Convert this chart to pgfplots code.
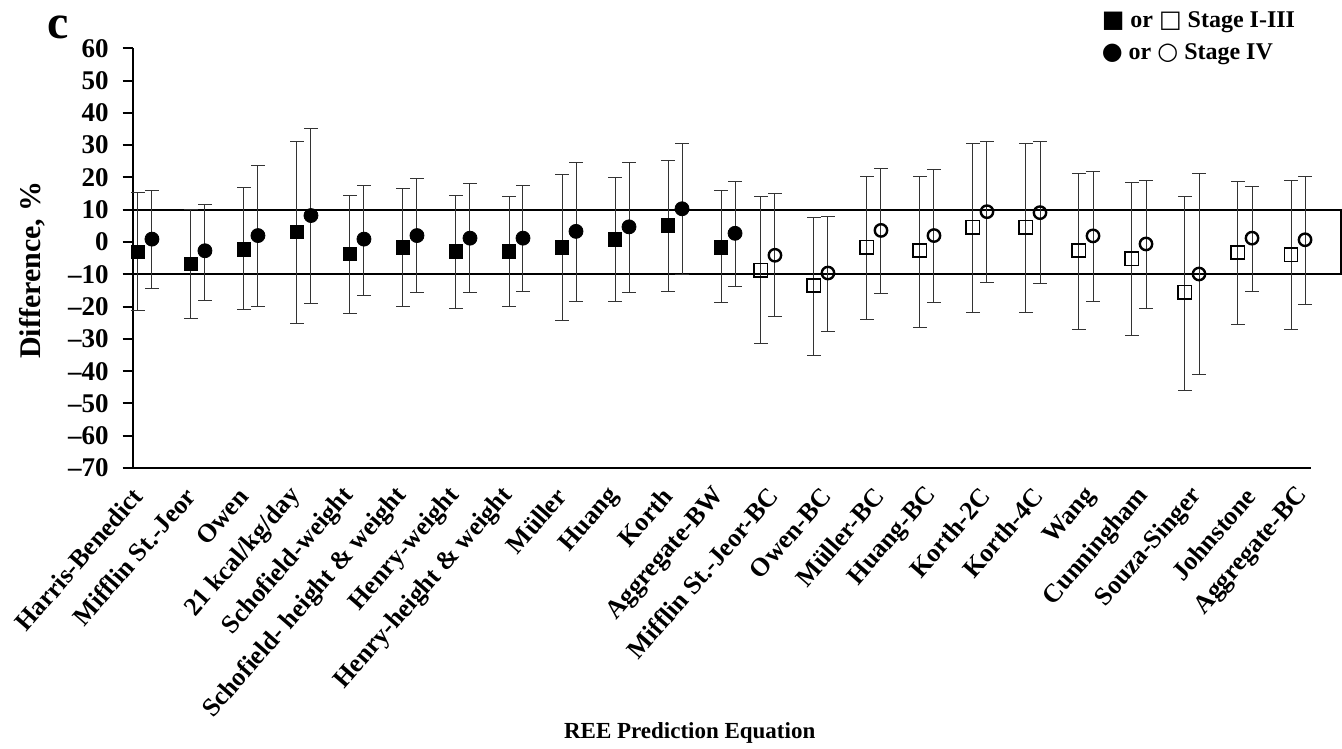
\documentclass[border=0pt]{standalone}
\usepackage{fontspec}
\setmainfont{Liberation Serif}
\newfontfamily\symfont{DejaVu Sans}
\usepackage{pgfplots}
\usepackage{pgfplotstable}
\pgfplotsset{compat=1.18}

% Mean difference (%) with upper and lower limits, per equation index k
% sq = Stage I-III, ci = Stage IV
\pgfplotstableread{
k  sq    sqhi  sqlo   ci    cihi  cilo
0  -3.1  15.3  -21.3  0.9   15.9  -14.5
1  -6.8  10.2  -23.6  -2.7  11.7  -18.0
2  -2.2  16.9  -20.9  2.0   23.7  -20.0
3  3.1   31.1  -25.1  8.2   35.3  -18.9
4  -3.7  14.4  -22.0  0.9   17.6  -16.7
5  -1.7  16.5  -20.0  2.0   19.6  -15.7
6  -2.9  14.4  -20.5  1.2   18.0  -15.7
7  -2.9  14.0  -20.0  1.2   17.6  -15.3
8  -1.7  20.8  -24.4  3.3   24.7  -18.4
9  0.9   20.0  -18.4  4.7   24.7  -15.7
10 5.1   25.4  -15.3  10.3  30.6  -10.2
11 -1.7  16.1  -18.8  2.7   18.7  -13.7
}\bodyweight

\pgfplotstableread{
k  sq     sqhi  sqlo   ci    cihi  cilo
12 -8.7   14.0  -31.5  -4.1  14.9  -23.2
13 -13.5  7.6   -35.2  -9.6  8.0   -27.7
14 -1.6   20.3  -24.1  3.6   22.7  -16.0
15 -2.7   20.3  -26.5  2.0   22.4  -18.8
16 4.6    30.6  -21.7  9.4   31.0  -12.5
17 4.6    30.6  -21.7  9.1   31.0  -12.9
18 -2.7   21.2  -27.2  1.9   21.9  -18.5
19 -5.2   18.4  -28.8  -0.6  19.2  -20.5
20 -15.5  14.0  -45.9  -9.9  21.2  -41.1
21 -3.2   18.7  -25.6  1.2   17.2  -15.3
22 -4.0   19.2  -27.2  0.7   20.3  -19.2
}\bodycomp

\begin{document}
\begin{tikzpicture}
\begin{axis}[
  scale only axis, width=589.5pt, height=210pt,
  xmin=-0.232, xmax=22.0, ymin=-70, ymax=60,
  clip=false,
  axis x line*=bottom, axis y line*=left,
  axis line style={line width=1pt, -},
  ytick={-70,-60,...,60},
  yticklabels={–70,–60,–50,–40,–30,–20,–10,0,10,20,30,40,50,60},
  xtick={0,...,22},
  xticklabels={Harris-Benedict, Mifflin St.-Jeor, Owen, 21 kcal/kg/day,
    Schofield-weight, Schofield- height \& weight, Henry-weight,
    Henry-height \& weight, Müller, Huang, Korth, Aggregate-BW,
    Mifflin St.-Jeor-BC, Owen-BC, Müller-BC, Huang-BC, Korth-2C, Korth-4C,
    Wang, Cunningham, Souza-Singer, Johnstone, Aggregate-BC},
  x tick style={draw=none},
  y tick style={line width=1pt, black},
  tick align=outside, major tick length=5pt,
  yticklabel style={font=\fontsize{13.5}{15}\selectfont\bfseries, xshift=-3.5pt},
  xticklabel style={font=\fontsize{13}{15}\selectfont\bfseries,
    xshift=-3pt, rotate=49, anchor=east, inner sep=1pt},
  xticklabel shift=6pt,
  ylabel={Difference, \%},
  ylabel style={font=\fontsize{15}{17}\selectfont\bfseries,
    at={(axis description cs:-0.0854,0.472)}, anchor=center},
  xlabel={REE Prediction Equation},
  xlabel style={font=\fontsize{11.5}{13}\selectfont\bfseries,
    at={(axis description cs:0.4727,-0.630)}, anchor=center},
  error bars/error bar style={line width=0.5pt, black!80},
  error bars/error mark options={rotate=90, mark size=3.3pt, line width=0.5pt, black!80},
]
% +/-10 % band
\addplot[line width=1pt, black, mark=none]
  coordinates {(-0.415,10) (22.566,10) (22.566,-10) (-0.415,-10)};

% body-weight equations: filled marks
\addplot[only marks, mark=square*, mark size=3.4pt, black,
  error bars/.cd, y dir=both, y explicit]
  table[x expr=\thisrow{k}-0.132, y=sq,
        y error plus expr=\thisrow{sqhi}-\thisrow{sq},
        y error minus expr=\thisrow{sq}-\thisrow{sqlo}] {\bodyweight};
\addplot[only marks, mark=*, mark size=3.5pt, black,
  error bars/.cd, y dir=both, y explicit]
  table[x expr=\thisrow{k}+0.132, y=ci,
        y error plus expr=\thisrow{cihi}-\thisrow{ci},
        y error minus expr=\thisrow{ci}-\thisrow{cilo}] {\bodyweight};

% body-composition equations: open marks
\addplot[only marks, mark=square, mark size=3.3pt, black,
  mark options={line width=0.9pt, fill=none},
  error bars/.cd, y dir=both, y explicit]
  table[x expr=\thisrow{k}-0.38, y=sq,
        y error plus expr=\thisrow{sqhi}-\thisrow{sq},
        y error minus expr=\thisrow{sq}-\thisrow{sqlo}] {\bodycomp};
\addplot[only marks, mark=o, mark size=3.1pt, black,
  mark options={line width=1.2pt, fill=none},
  error bars/.cd, y dir=both, y explicit]
  table[x expr=\thisrow{k}-0.115, y=ci,
        y error plus expr=\thisrow{cihi}-\thisrow{ci},
        y error minus expr=\thisrow{ci}-\thisrow{cilo}] {\bodycomp};

\node[font=\fontsize{24}{26}\selectfont\bfseries] at (axis description cs:-0.0634,1.050) {c};
\node[anchor=west, inner sep=0pt, font=\fontsize{12}{14}\selectfont\bfseries]
  at (axis description cs:0.822,1.0626) {{\symfont ■} or {\symfont □} Stage I-III};
\node[anchor=west, inner sep=0pt, font=\fontsize{12}{14}\selectfont\bfseries]
  at (axis description cs:0.822,0.9864) {{\symfont ●} or {\symfont ○} Stage IV};

\coordinate (SW) at (axis description cs:-0.11255,-0.66833);
\coordinate (NE) at (axis description cs:1.0262,1.1150);
\end{axis}
\pgfresetboundingbox
\path (SW) rectangle (NE);
\end{tikzpicture}
\end{document}
